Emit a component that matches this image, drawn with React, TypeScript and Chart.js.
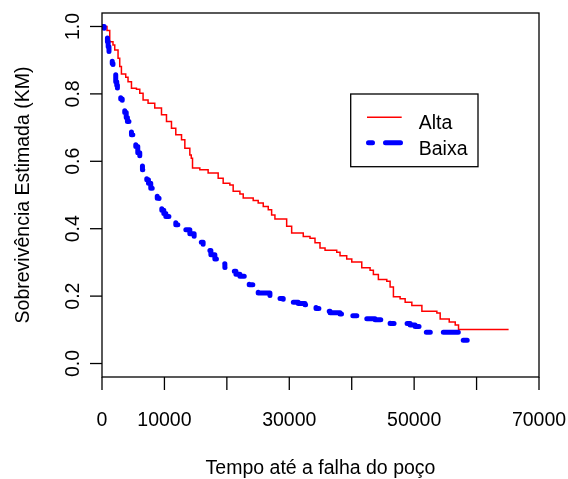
import { useEffect, useRef } from 'react';
import { Chart, registerables } from 'chart.js';

Chart.register(...registerables);

// ---- data ----
const ALTA_TIMES = [0, 800, 1240, 1760, 2040, 2570, 2840, 3110, 3800, 4170, 4720, 5520, 6050, 6580, 7380, 8450, 9530, 10330, 11130, 11820, 12740, 13270, 14070, 14300, 14500, 15670, 17000, 18610, 19410, 20480, 21010, 22090, 22620, 24220, 25020, 25830, 26630, 27170, 27700, 29580, 30380, 32240, 33320, 34120, 34920, 35730, 37600, 38130, 39200, 40010, 41610, 42940, 43470, 44270, 45620, 46150, 46680, 47750, 48560, 49630, 51240, 53640, 54170, 55620, 56580, 57110, 65130];
const ALTA_SURV = [1.0, 0.988, 0.955, 0.945, 0.93, 0.906, 0.881, 0.859, 0.849, 0.836, 0.817, 0.814, 0.802, 0.782, 0.772, 0.758, 0.738, 0.718, 0.698, 0.679, 0.664, 0.639, 0.619, 0.609, 0.58, 0.575, 0.565, 0.55, 0.535, 0.53, 0.511, 0.503, 0.491, 0.484, 0.476, 0.466, 0.456, 0.441, 0.429, 0.407, 0.387, 0.377, 0.372, 0.358, 0.343, 0.336, 0.33, 0.32, 0.31, 0.301, 0.284, 0.277, 0.264, 0.249, 0.244, 0.227, 0.198, 0.192, 0.182, 0.172, 0.155, 0.15, 0.132, 0.123, 0.114, 0.101, 0.101];

const BAIXA_TIMES = [0, 350, 590, 870, 990, 1120, 1240, 1480, 1640, 1760, 1960, 2200, 2360, 2470, 2730, 3000, 3240, 3430, 3640, 3880, 4070, 4440, 4720, 5000, 5410, 5730, 6050, 6290, 6480, 6850, 7170, 7440, 7810, 8210, 8610, 8850, 9140, 9580, 9900, 10220, 10860, 11340, 11820, 12460, 13430, 14070, 14760, 15350, 16200, 16800, 17440, 18080, 18770, 19680, 20760, 21450, 22090, 22890, 23580, 24330, 25020, 26900, 28020, 29030, 30110, 31440, 32520, 33320, 34280, 35350, 36530, 38130, 39460, 41020, 42300, 43740, 44820, 46150, 49360, 50160, 50960, 51490, 57140, 59620];
const BAIXA_SURV = [1.0, 0.985, 0.97, 0.955, 0.94, 0.925, 0.916, 0.9, 0.89, 0.876, 0.86, 0.836, 0.826, 0.817, 0.797, 0.785, 0.77, 0.758, 0.745, 0.73, 0.718, 0.698, 0.679, 0.665, 0.644, 0.625, 0.604, 0.59, 0.575, 0.56, 0.545, 0.535, 0.52, 0.51, 0.501, 0.49, 0.471, 0.455, 0.445, 0.436, 0.425, 0.418, 0.412, 0.405, 0.397, 0.385, 0.372, 0.36, 0.348, 0.335, 0.323, 0.31, 0.296, 0.285, 0.274, 0.265, 0.259, 0.245, 0.234, 0.22, 0.209, 0.201, 0.193, 0.187, 0.182, 0.178, 0.174, 0.17, 0.163, 0.155, 0.151, 0.147, 0.142, 0.137, 0.133, 0.13, 0.128, 0.119, 0.114, 0.11, 0.106, 0.093, 0.069, 0.069];

const SERIES_LABELS = ['Alta', 'Baixa'];
const X_TICKS = [0, 10000, 20000, 30000, 40000, 50000, 60000, 70000];
const X_TICK_LABELS = ['0', '10000', '', '30000', '', '50000', '', '70000'];
const Y_TICKS = [0, 0.2, 0.4, 0.6, 0.8, 1.0];
const Y_TICK_LABELS = ['0.0', '0.2', '0.4', '0.6', '0.8', '1.0'];
const X_TITLE = 'Tempo até a falha do poço';
const Y_TITLE = 'Sobrevivência Estimada (KM)';

const FONT = '19.5px "Liberation Sans", Arial, sans-serif';
const BLUE_DASH = [4, 13, 15, 13];

const rAxesPlugin = {
  id: 'rAxes',
  afterDraw(chart: any) {
    const { ctx, chartArea: a, scales } = chart;
    const x = scales.x;
    const y = scales.y;
    ctx.save();
    ctx.strokeStyle = '#000';
    ctx.fillStyle = '#000';
    ctx.lineWidth = 1.3;
    ctx.lineCap = 'butt';
    ctx.setLineDash([]);
    // box
    ctx.strokeRect(a.left, a.top, a.right - a.left, a.bottom - a.top);
    ctx.font = FONT;
    // x axis ticks + labels
    ctx.textAlign = 'center';
    ctx.textBaseline = 'alphabetic';
    X_TICKS.forEach((v, i) => {
      const px = x.getPixelForValue(v);
      ctx.beginPath();
      ctx.moveTo(px, a.bottom);
      ctx.lineTo(px, a.bottom + 13);
      ctx.stroke();
      if (X_TICK_LABELS[i]) ctx.fillText(X_TICK_LABELS[i], px, a.bottom + 49);
    });
    // y axis ticks + rotated labels
    Y_TICKS.forEach((v, i) => {
      const py = y.getPixelForValue(v);
      ctx.beginPath();
      ctx.moveTo(a.left, py);
      ctx.lineTo(a.left - 12, py);
      ctx.stroke();
      ctx.save();
      ctx.translate(a.left - 23.5, py);
      ctx.rotate(-Math.PI / 2);
      ctx.fillText(Y_TICK_LABELS[i], 0, 0);
      ctx.restore();
    });
    // titles
    ctx.fillText(X_TITLE, (a.left + a.right) / 2, a.bottom + 97);
    ctx.save();
    ctx.translate(28.5, (a.top + a.bottom) / 2);
    ctx.rotate(-Math.PI / 2);
    ctx.fillText(Y_TITLE, 0, 0);
    ctx.restore();

    // legend
    const lx = 350.7, ly = 94, lw = 127.3, lh = 72.7;
    ctx.lineWidth = 1.3;
    ctx.strokeRect(lx, ly, lw, lh);
    const ds = chart.data.datasets;
    const rows = [117.3, 142.7];
    ds.forEach((d: any, i: number) => {
      ctx.save();
      ctx.strokeStyle = d.borderColor;
      ctx.lineWidth = d.borderWidth;
      ctx.lineCap = d.borderCapStyle || 'butt';
      ctx.setLineDash(d.borderDash || []);
      ctx.beginPath();
      const x0 = d.borderDash ? 368.5 : 367;
      ctx.moveTo(x0, rows[i]);
      ctx.lineTo(401.7, rows[i]);
      ctx.stroke();
      ctx.restore();
      ctx.textAlign = 'left';
      ctx.fillText(d.label, 418.7, rows[i] + 12);
    });
    ctx.restore();
  },
};

export default function App() {
  const ref = useRef<HTMLCanvasElement | null>(null);
  useEffect(() => {
    if (!ref.current) return;
    const alta = ALTA_TIMES.map((t, i) => ({ x: t, y: ALTA_SURV[i] }));
    const baixa = BAIXA_TIMES.map((t, i) => ({ x: t, y: BAIXA_SURV[i] }));
    const chart = new Chart(ref.current, {
      type: 'line',
      data: {
        datasets: [
          {
            label: SERIES_LABELS[0],
            data: alta,
            borderColor: '#FF0000',
            borderWidth: 1.5,
            stepped: 'before',
            pointRadius: 0,
            fill: false,
            order: 2,
          },
          {
            label: SERIES_LABELS[1],
            data: baixa,
            borderColor: '#0000FF',
            borderWidth: 5,
            borderDash: BLUE_DASH,
            borderCapStyle: 'round',
            borderJoinStyle: 'round',
            stepped: 'before',
            pointRadius: 0,
            fill: false,
            order: 1,
          },
        ],
      } as any,
      options: {
        responsive: false,
        animation: false,
        devicePixelRatio: 1,
        layout: { padding: { left: 102, top: 13, right: 29, bottom: 102 } },
        plugins: { legend: { display: false }, tooltip: { enabled: false } },
        scales: {
          x: { type: 'linear', min: 0, max: 70000, display: false },
          y: { type: 'linear', min: -0.04, max: 1.04, display: false },
        },
      } as any,
      plugins: [rAxesPlugin],
    });
    return () => chart.destroy();
  }, []);
  return (
    <div style={{ position: 'absolute', left: 0, top: 0, width: 568, height: 479, background: '#fff' }}>
      <canvas ref={ref} width={568} height={479} style={{ width: 568, height: 479 }} />
    </div>
  );
}
